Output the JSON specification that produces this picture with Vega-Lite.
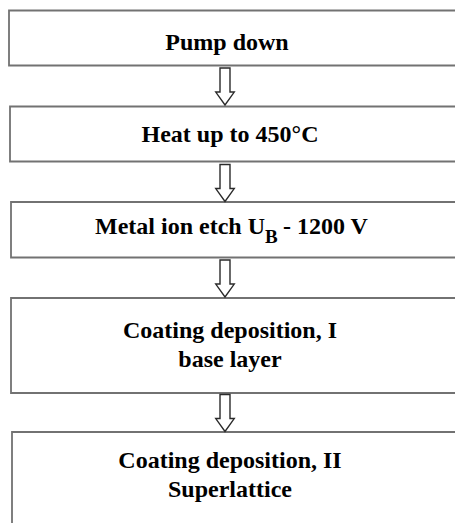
{
  "$schema": "https://vega.github.io/schema/vega-lite/v6.json",
  "width": 455,
  "height": 523,
  "padding": 0,
  "autosize": "none",
  "background": "white",
  "config": {"view": {"stroke": null}},
  "datasets": {
    "boxes": [
      {"step": 1, "x1": 9, "x2": 470, "y1": 10.5, "y2": 65.5},
      {"step": 2, "x1": 10, "x2": 470, "y1": 106.5, "y2": 161.5},
      {"step": 3, "x1": 11, "x2": 470, "y1": 202, "y2": 257.5},
      {"step": 4, "x1": 11, "x2": 470, "y1": 298, "y2": 393},
      {"step": 5, "x1": 12, "x2": 470, "y1": 432, "y2": 540}
    ],
    "arrows": [
      {"from": 1, "to": 2, "x": 225, "y": 86.5},
      {"from": 2, "to": 3, "x": 225, "y": 183},
      {"from": 3, "to": 4, "x": 225, "y": 278.5},
      {"from": 4, "to": 5, "x": 225, "y": 413}
    ],
    "labels": [
      {"step": 1, "role": "main", "label": "Pump down", "x": 227, "y": 49.5},
      {"step": 2, "role": "main", "label": "Heat up to 450°C", "x": 230, "y": 142},
      {"step": 3, "role": "pre", "label": "Metal ion etch U", "x": 265, "y": 234},
      {"step": 3, "role": "sub", "label": "B", "x": 265, "y": 242.5},
      {"step": 3, "role": "post", "label": "- 1200 V", "x": 283, "y": 234},
      {"step": 4, "role": "main", "label": "Coating deposition, I\nbase layer", "x": 230, "y": 338},
      {"step": 5, "role": "main", "label": "Coating deposition, II\nSuperlattice", "x": 230, "y": 468}
    ]
  },
  "layer": [
    {
      "data": {"name": "boxes"},
      "mark": {"type": "rect", "fill": "white", "stroke": "#727272", "strokeWidth": 1.8, "clip": true},
      "encoding": {
        "x": {"field": "x1", "type": "quantitative", "scale": {"domain": [0, 455], "nice": false, "zero": false}, "axis": null},
        "x2": {"field": "x2"},
        "y": {"field": "y1", "type": "quantitative", "scale": {"domain": [0, 523], "nice": false, "zero": false, "reverse": true}, "axis": null},
        "y2": {"field": "y2"}
      }
    },
    {
      "data": {"name": "arrows"},
      "mark": {
        "type": "point",
        "shape": "M -0.27 -1 L 0.27 -1 L 0.27 0.3 L 0.5 0.3 L 0 1 L -0.5 0.3 L -0.27 0.3 Z",
        "size": 1369,
        "filled": false,
        "fill": "white",
        "fillOpacity": 1,
        "stroke": "#2a2a2a",
        "strokeWidth": 1.4,
        "opacity": 1
      },
      "encoding": {
        "x": {"field": "x", "type": "quantitative"},
        "y": {"field": "y", "type": "quantitative"}
      }
    },
    {
      "data": {"name": "labels"},
      "transform": [{"filter": "datum.role === 'main'"}],
      "mark": {"type": "text", "font": "Liberation Serif", "fontWeight": "bold", "fontSize": 24, "align": "center", "baseline": "alphabetic", "lineBreak": "\n", "lineHeight": 29, "color": "#000"},
      "encoding": {
        "x": {"field": "x", "type": "quantitative"},
        "y": {"field": "y", "type": "quantitative"},
        "text": {"field": "label"}
      }
    },
    {
      "data": {"name": "labels"},
      "transform": [{"filter": "datum.role === 'pre'"}],
      "mark": {"type": "text", "font": "Liberation Serif", "fontWeight": "bold", "fontSize": 24, "align": "right", "baseline": "alphabetic", "color": "#000"},
      "encoding": {
        "x": {"field": "x", "type": "quantitative"},
        "y": {"field": "y", "type": "quantitative"},
        "text": {"field": "label"}
      }
    },
    {
      "data": {"name": "labels"},
      "transform": [{"filter": "datum.role === 'sub'"}],
      "mark": {"type": "text", "font": "Liberation Serif", "fontWeight": "bold", "fontSize": 19, "align": "left", "baseline": "alphabetic", "color": "#000"},
      "encoding": {
        "x": {"field": "x", "type": "quantitative"},
        "y": {"field": "y", "type": "quantitative"},
        "text": {"field": "label"}
      }
    },
    {
      "data": {"name": "labels"},
      "transform": [{"filter": "datum.role === 'post'"}],
      "mark": {"type": "text", "font": "Liberation Serif", "fontWeight": "bold", "fontSize": 24, "align": "left", "baseline": "alphabetic", "color": "#000"},
      "encoding": {
        "x": {"field": "x", "type": "quantitative"},
        "y": {"field": "y", "type": "quantitative"},
        "text": {"field": "label"}
      }
    }
  ]
}
